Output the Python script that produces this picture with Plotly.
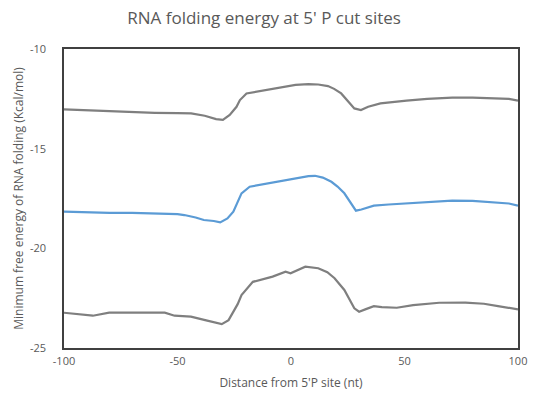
import plotly.graph_objects as go

# Distance from 5'P site (nt)
x_top = [-100, -90, -80, -70, -60, -50, -44, -38, -33, -30, -27, -24, -22.5, -19.6, -15.3, -8.1, -2, 2, 7.7, 12, 16.3, 19, 22.1, 25, 27.9, 30.8, 34, 39.4, 45, 50.9, 60, 71, 80, 91.2, 96, 100]
top = [-13.03, -13.08, -13.12, -13.18, -13.2, -13.22, -13.23, -13.35, -13.52, -13.56, -13.31, -12.9, -12.56, -12.23, -12.14, -12.02, -11.9, -11.8, -11.76, -11.78, -11.86, -12.0, -12.23, -12.6, -12.98, -13.06, -12.9, -12.73, -12.65, -12.59, -12.5, -12.44, -12.44, -12.47, -12.5, -12.59]

x_mid = [-100, -90, -80, -70, -60, -50, -47, -42, -38.4, -34, -31.2, -28, -25.4, -23.5, -21.8, -18.2, -14, -9.6, -4, 1.9, 7.7, 10.6, 14, 17.8, 20.5, 23.5, 26, 28.6, 31, 36.5, 43, 50.9, 60, 71, 80, 91.2, 96, 100]
mid = [-18.16, -18.2, -18.22, -18.22, -18.25, -18.28, -18.33, -18.45, -18.58, -18.63, -18.7, -18.5, -18.16, -17.7, -17.24, -16.91, -16.82, -16.74, -16.6, -16.49, -16.38, -16.36, -16.45, -16.66, -16.9, -17.24, -17.65, -18.11, -18.05, -17.86, -17.8, -17.74, -17.68, -17.61, -17.62, -17.69, -17.75, -17.86]

x_bot = [-100, -93, -87.3, -80.1, -70, -60, -55.6, -51.3, -44.1, -36.9, -30.5, -27.5, -25.4, -23.5, -21.8, -16.8, -8.1, -2.4, -0.2, 3, 6.3, 12, 16, 19.2, 23.5, 27.9, 30, 33, 36.5, 40, 46.6, 53.8, 60, 65.3, 76.8, 85, 91.2, 96, 100]
bot = [-23.23, -23.3, -23.38, -23.23, -23.23, -23.23, -23.23, -23.38, -23.43, -23.63, -23.8, -23.6, -23.18, -22.8, -22.34, -21.68, -21.42, -21.17, -21.25, -21.1, -20.92, -21.0, -21.2, -21.5, -22.09, -23.01, -23.18, -23.05, -22.9, -22.95, -22.98, -22.85, -22.78, -22.73, -22.72, -22.78, -22.9, -22.97, -23.06]

x_ticks = [-100, -50, 0, 50, 100]
y_ticks = [-25, -20, -15, -10]

GRAY = "#7f7f7f"
BLUE = "#5b9bd5"
TXT = "#595959"
FONT = "Open Sans"

fig = go.Figure()
fig.add_trace(go.Scatter(x=x_top, y=top, mode="lines", line=dict(color=GRAY, width=2.2), showlegend=False))
fig.add_trace(go.Scatter(x=x_mid, y=mid, mode="lines", line=dict(color=BLUE, width=2.2), showlegend=False))
fig.add_trace(go.Scatter(x=x_bot, y=bot, mode="lines", line=dict(color=GRAY, width=2.2), showlegend=False))

fig.update_layout(
    width=539, height=404,
    margin=dict(l=64, r=12, t=49, b=56),
    paper_bgcolor="white", plot_bgcolor="white",
    font=dict(family=FONT, color=TXT, size=11),
    title=dict(text="RNA folding energy at 5' P cut sites", x=0.49, xref="container", xanchor="center",
               y=0.955, yref="container", yanchor="middle", font=dict(size=17, color=TXT, family=FONT)),
    xaxis=dict(range=[-100, 100], tickvals=x_ticks, ticktext=[str(v) for v in x_ticks],
               showgrid=False, zeroline=False, showline=True, linecolor="#404040", linewidth=1.5, mirror=True,
               ticks="", ticklen=0, ticklabelstandoff=2,
               title=dict(text="Distance from 5'P site (nt)", font=dict(size=12, color=TXT), standoff=12),
               tickfont=dict(size=11, color=TXT)),
    yaxis=dict(range=[-25, -10], tickvals=y_ticks, ticktext=[str(v) for v in y_ticks],
               showgrid=False, zeroline=False, showline=True, linecolor="#404040", linewidth=1.5, mirror=True,
               ticks="", ticklen=0, ticklabelstandoff=14,
               title=dict(text="Minimum free energy of RNA folding (Kcal/mol)", font=dict(size=12, color=TXT), standoff=4),
               tickfont=dict(size=11, color=TXT)),
)

fig.write_html("out.html")
